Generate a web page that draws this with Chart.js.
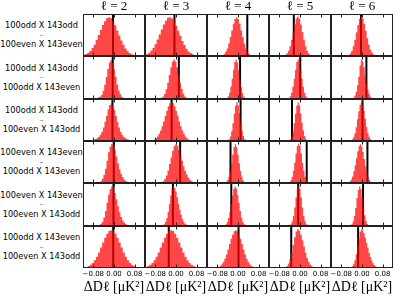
<!DOCTYPE html>
<html><head><meta charset="utf-8">
<script src="https://cdn.jsdelivr.net/npm/chart.js@4.4.1/dist/chart.umd.min.js"></script>
<style>
html,body{margin:0;padding:0;background:#fff;overflow:hidden;}
#wrap{position:relative;width:395px;height:296px;background:#fff;}
canvas{position:absolute;}
.rl{position:absolute;left:0;width:83px;text-align:center;font-family:'DejaVu Sans',sans-serif;font-size:8.2px;line-height:9.6px;color:#000;white-space:nowrap;}
.rl .d{color:#888;}
</style></head><body><div id="wrap"></div>
<script>
// ---------- data ----------
const columnTitles = ['ℓ = 2', 'ℓ = 3', 'ℓ = 4', 'ℓ = 5', 'ℓ = 6'];
const rowTopLabels = ['100odd X 143odd', '100odd X 143odd', '100odd X 143odd', '100even X 143even', '100even X 143even', '100odd X 143even'];
const rowBottomLabels = ['100even X 143even', '100odd X 143even', '100even X 143odd', '100odd X 143even', '100even X 143odd', '100even X 143odd'];
const xTickValues = [-0.08, 0, 0.08];
const xMin = -0.12, xMax = 0.12;
const xAxisTitle = 'ΔDℓ [μK²]';

// observed value (black vertical line) per row / column
const observedLine = [
  [-0.004, -0.006, 0.036, -0.024, -0.004],
  [-0.005, 0.011, 0.008, 0.001, 0.017],
  [-0.006, -0.017, 0.010, -0.031, 0.002],
  [-0.001, 0.016, -0.029, 0.026, 0.021],
  [-0.002, -0.012, -0.026, -0.007, 0.004],
  [-0.003, -0.028, 0.002, -0.034, -0.015]
];
// centre of first histogram bin
const binFirstCentre = [
  [-0.115, -0.119, -0.059, -0.056, -0.051],
  [-0.071, -0.055, -0.047, -0.042, -0.032],
  [-0.100, -0.101, -0.039, -0.037, -0.042],
  [-0.062, -0.060, -0.050, -0.040, -0.051],
  [-0.062, -0.055, -0.046, -0.040, -0.044],
  [-0.114, -0.115, -0.092, -0.050, -0.042]
];
const binWidth = [
  [0.008, 0.008, 0.006, 0.006, 0.006],
  [0.006, 0.006, 0.005, 0.005, 0.005],
  [0.006, 0.006, 0.005, 0.005, 0.005],
  [0.006, 0.006, 0.005, 0.005, 0.005],
  [0.006, 0.005, 0.005, 0.005, 0.005],
  [0.008, 0.008, 0.006, 0.006, 0.005]
];
// normalised histogram heights
const heightsRow1 = [
  [.01,.03,.05,.08,.12,.19,.27,.38,.50,.62,.74,.83,.90,.92,.90,.83,.73,.61,.49,.37,.27,.18,.12,.07,.04,.02,.01],
  [.01,.03,.05,.08,.13,.19,.28,.39,.51,.63,.75,.84,.91,.92,.89,.82,.72,.60,.48,.36,.26,.17,.11,.07,.04,.02,.01],
  [.01,.024,.05,.10,.18,.30,.45,.61,.77,.88,.92,.88,.77,.61,.45,.30,.18,.10,.05,.024,.01],
  [.01,.027,.062,.127,.235,.385,.57,.75,.89,.94,.89,.75,.57,.385,.235,.127,.062,.027,.01],
  [.01,.025,.06,.12,.23,.38,.56,.74,.88,.94,.90,.77,.60,.42,.27,.15,.08,.04,.018,.008]
];
const heightsRow2 = [
  [.008,.015,.025,.04,.06,.10,.19,.33,.51,.70,.85,.90,.84,.70,.52,.34,.20,.11,.05,.02,.01],
  [.01,.027,.06,.124,.23,.38,.56,.74,.87,.92,.87,.74,.56,.38,.23,.124,.06,.027,.01],
  [.005,.012,.028,.066,.15,.29,.47,.68,.86,.92,.85,.67,.46,.28,.14,.06,.024,.008],
  [.008,.025,.064,.147,.285,.47,.68,.86,.92,.86,.68,.47,.285,.147,.064,.025,.008],
  [.01,.03,.08,.17,.32,.52,.78,.92,.88,.74,.55,.37,.22,.12,.06,.025,.01]
];
const heightsRow3 = [
  [.004,.006,.01,.016,.024,.035,.05,.07,.10,.15,.22,.32,.45,.60,.75,.86,.90,.86,.75,.60,.45,.32,.22,.15,.10,.07,.05,.035,.024,.016,.01],
  [.004,.006,.01,.02,.037,.064,.106,.17,.25,.35,.47,.60,.72,.83,.90,.92,.90,.83,.72,.60,.47,.35,.25,.17,.106,.064,.037,.02,.01,.005],
  [.005,.013,.04,.105,.23,.42,.65,.84,.92,.85,.66,.44,.25,.12,.05,.02,.008,.004],
  [.013,.04,.105,.23,.42,.65,.84,.92,.85,.66,.44,.25,.12,.05,.02,.008,.004],
  [.006,.016,.04,.092,.185,.33,.52,.71,.865,.92,.87,.72,.53,.34,.19,.10,.045,.02,.008,.003]
];
const heightsRow4 = [
  [.004,.007,.018,.044,.10,.195,.34,.53,.73,.87,.93,.89,.78,.63,.47,.33,.22,.14,.085,.05,.028,.015,.008],
  [.004,.01,.024,.05,.10,.18,.30,.45,.61,.77,.88,.92,.89,.80,.67,.53,.40,.29,.20,.13,.08,.05,.03,.017,.009,.004],
  [.01,.02,.03,.07,.15,.29,.47,.68,.86,.92,.86,.68,.47,.285,.147,.064,.025,.008],
  [.008,.025,.065,.15,.29,.48,.70,.88,.94,.88,.70,.48,.29,.15,.065,.025,.008],
  [.007,.018,.04,.083,.156,.28,.42,.59,.755,.875,.92,.87,.74,.57,.40,.26,.14,.07,.03,.012]
];
const heightsRow5 = [
  [.004,.008,.02,.045,.10,.20,.35,.54,.73,.86,.92,.88,.77,.62,.46,.32,.21,.13,.08,.045,.025,.013,.006],
  [.003,.006,.016,.04,.092,.185,.33,.52,.71,.865,.92,.89,.80,.67,.52,.38,.26,.17,.10,.06,.033,.018,.009,.004],
  [.016,.04,.092,.185,.33,.52,.71,.865,.92,.87,.72,.54,.35,.20,.10,.045,.018,.008,.003],
  [.005,.013,.041,.107,.235,.43,.665,.86,.94,.86,.665,.43,.235,.107,.041,.013,.005],
  [.005,.013,.04,.105,.23,.42,.65,.84,.92,.86,.67,.45,.25,.12,.045,.015,.005]
];
const heightsRow6 = [
  [.007,.013,.025,.045,.077,.12,.185,.27,.37,.49,.61,.72,.815,.88,.9,.88,.815,.72,.61,.49,.37,.27,.185,.12,.077,.045,.025,.013],
  [.013,.025,.045,.077,.12,.185,.27,.37,.49,.61,.72,.815,.88,.9,.88,.815,.72,.61,.49,.37,.27,.185,.12,.077,.045,.025,.013],
  [.003,.004,.007,.014,.027,.05,.087,.143,.22,.32,.44,.57,.695,.80,.875,.9,.875,.80,.695,.57,.44,.32,.22,.143,.087,.05,.027,.014,.007,.004],
  [.02,.05,.11,.21,.36,.55,.73,.87,.92,.886,.79,.66,.51,.36,.24,.15,.086,.045,.022,.01,.005],
  [.006,.016,.04,.092,.185,.33,.52,.71,.865,.92,.89,.83,.72,.6,.48,.36,.26,.18,.115,.07,.04,.022,.011,.005]
];
const heights = [heightsRow1, heightsRow2, heightsRow3, heightsRow4, heightsRow5, heightsRow6];

// ---------- layout ----------
const colLeft0 = 83, colStep = 62, colW = 62;
const rowEdges = [14, 56, 99, 141, 183, 226, 268];
const titleH = 14, bottomAxisH = 28;
const wrap = document.getElementById('wrap');

const fmt = v => (v < -1e-9 ? '\u2212' : '') + Math.abs(v).toFixed(2);

const framePlugin = {
  id: 'frame',
  afterDatasetsDraw(chart) {
    const {ctx, chartArea: a, scales: {x}} = chart;
    ctx.save();
    ctx.strokeStyle = '#222';
    ctx.lineWidth = 1;
    ctx.strokeRect(a.left + 0.5, a.top + 0.5, a.right - a.left - 1, a.bottom - a.top - 1);
    ctx.beginPath();
    xTickValues.forEach(v => {
      const px = Math.round(x.getPixelForValue(v)) + 0.5;
      ctx.moveTo(px, a.top); ctx.lineTo(px, a.top + 3.5);
      ctx.moveTo(px, a.bottom); ctx.lineTo(px, a.bottom - 3.5);
    });
    ctx.stroke();
    ctx.restore();
  }
};

for (let r = 0; r < 6; r++) {
  // row label
  const lab = document.createElement('div');
  lab.className = 'rl';
  lab.innerHTML = rowTopLabels[r] + '<br><span class="d">–</span><br>' + rowBottomLabels[r];
  const mid = (rowEdges[r] + rowEdges[r + 1]) / 2;
  lab.style.top = (mid - 13.9) + 'px';
  wrap.appendChild(lab);

  for (let c = 0; c < 5; c++) {
    const cv = document.createElement('canvas');
    const top = rowEdges[r] - (r === 0 ? titleH : 0);
    const h = rowEdges[r + 1] - rowEdges[r] + (r === 0 ? titleH : 0) + (r === 5 ? bottomAxisH : 0);
    const left = colLeft0 + colStep * c;
    cv.width = colW; cv.height = h;
    cv.style.left = left + 'px'; cv.style.top = top + 'px';
    cv.style.width = colW + 'px'; cv.style.height = h + 'px';
    wrap.appendChild(cv);

    const hs = heights[r][c];
    const w = binWidth[r][c];
    const x0 = binFirstCentre[r][c] - w / 2;
    const pts = hs.map((v, i) => ({x: x0 + i * w, y: v}));
    pts.push({x: x0 + hs.length * w, y: hs[hs.length - 1]});
    const L = observedLine[r][c];

    const xScale = {
      type: 'linear', min: xMin, max: xMax,
      display: r === 5,
      afterBuildTicks: s => { s.ticks = xTickValues.map(v => ({value: v})); },
      grid: {display: false, drawTicks: false},
      border: {display: false},
      ticks: {padding: 2, font: {family: 'DejaVu Sans', size: 7}, color: '#000', maxRotation: 0, autoSkip: false, callback: v => fmt(v)},
      title: {display: true, text: xAxisTitle, font: {family: 'Liberation Serif', size: 14}, color: '#000', padding: {top: 0, bottom: 0}}
    };
    if (r === 5) xScale.afterFit = s => { s.height = bottomAxisH; s.paddingLeft = 0; s.paddingRight = 0; };

    new Chart(cv, {
      type: 'line',
      data: {datasets: [
        {data: pts, stepped: 'after', fill: 'origin', backgroundColor: 'rgba(255,0,0,0.72)', borderColor: 'rgba(0,0,0,0)', borderWidth: 0, pointRadius: 0},
        {data: [{x: L, y: 0}, {x: L, y: 1}], borderColor: '#000', borderWidth: 2, pointRadius: 0, fill: false}
      ]},
      options: {
        responsive: false, animation: false, devicePixelRatio: 1,
        layout: {padding: 0},
        events: [],
        plugins: {
          legend: {display: false}, tooltip: {enabled: false},
          title: r === 0 ? {display: true, text: columnTitles[c], font: {family: 'Liberation Serif', size: 13, weight: 'normal', lineHeight: '14px'}, color: '#000', padding: 0} : {display: false}
        },
        scales: {x: xScale, y: {display: false, min: 0, max: 1}}
      },
      plugins: [framePlugin]
    });
  }
}
</script></body></html>
